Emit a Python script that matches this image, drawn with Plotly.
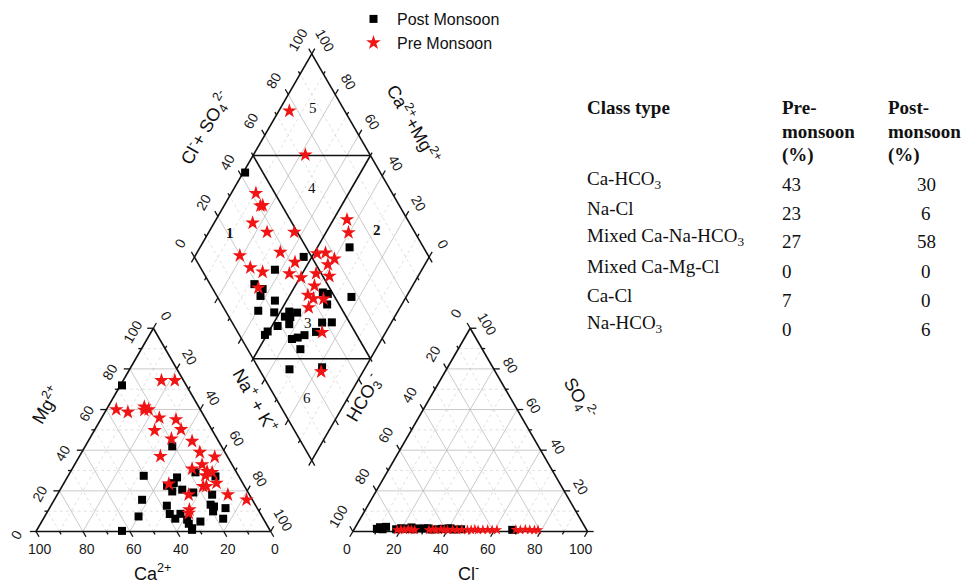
import numpy as np
import plotly.graph_objects as go

# ---------------- data ----------------
# Cation triangle, % meq: Ca2+ and Mg2+ (Na+ + K+ is the remainder)
post_ca = [27.4, 21.0, 40.4, 26.6, 29.4, 32.9, 32.1, 27.4, 23.4, 47.0, 37.9, 38.7, 37.5, 34.1, 32.7,
           33.0, 32.7, 27.5, 52.6, 63.2, 10.0, 17.5, 15.9, 19.0, 18.0, 19.6, 13.5, 17.1, 33.1]
post_mg = [71.9, 41.9, 27.4, 26.6, 23.8, 22.5, 19.7, 20.6, 19.2, 15.6, 12.7, 8.6, 6.3, 8.7, 5.8,
           3.8, 1.6, 4.9, 7.4, 0.3, 27.1, 29.1, 18.1, 13.2, 12.3, 9.9, 11.5, 6.3, 0.8]
pre_ca = [9.4, 3.7, 35.8, 31.5, 23.2, 22.0, 24.0, 19.5, 12.8, 24.6, 13.1, 19.5, 11.3, 28.5, 10.7,
          5.5, 12.8, 18.1, 12.3, 10.4, 14.1, 31.7, 11.2, 17.7, 16.3, 25.9, 9.2, 2.5, 29.3, 30.4]
pre_mg = [74.3, 74.3, 60.0, 58.7, 61.3, 60.0, 59.7, 55.9, 55.1, 49.7, 50.2, 45.6, 44.4, 37.0, 39.0,
          36.7, 32.9, 30.8, 29.6, 29.1, 27.5, 23.4, 23.8, 22.2, 22.2, 18.1, 18.1, 15.6, 10.7, 9.0]

# Anion triangle, % meq: Cl- and SO4 2- (HCO3- is the remainder)
post_cl = [9.6, 10.5, 11.0, 12.1, 13.0, 17.9, 19.7, 21.5, 23.2, 24.0, 25.4, 27.1, 29.7, 31.1, 33.0,
           35.9, 37.4, 39.9, 40.9, 42.5, 45.6, 67.5]
post_so4 = [1.3, 2.1, 1.5, 1.1, 2.3, 1.1, 1.6, 1.3, 1.5, 2.0, 1.1, 1.5, 1.5, 1.6, 1.0,
            1.1, 1.3, 1.5, 1.5, 1.0, 1.1, 0.8]
pre_cl = [18.5, 20.0, 21.5, 23.0, 24.5, 26.0, 32.0, 33.5, 35.0, 37.0, 38.5, 40.0, 42.0, 44.0, 46.0,
          48.5, 50.0, 51.5, 53.0, 55.0, 57.0, 59.0, 61.0, 69.0, 71.0, 73.0, 75.0, 77.0, 78.5]
pre_so4 = [0.8, 1.0, 0.7, 1.2, 0.9, 0.7, 0.8, 1.0, 0.7, 1.1, 0.8, 0.7, 1.0, 0.8, 0.9,
           0.7, 0.8, 1.0, 0.7, 0.8, 0.9, 0.7, 0.8, 0.9, 0.7, 1.0, 0.8, 0.7, 0.8]

# Diamond: Cl- + SO4 2- (%) and Ca2+ + Mg2+ (%)
post_an = [42.4, 46.6, 68.5, 31.2, 18.9, 21.2, 18.6, 23.6, 14.0, 20.4, 27.0, 30.1, 23.9, 26.1, 18.5,
           23.9, 38.3, 42.5, 33.4, 12.9, 10.9, 27.7, 24.2, 21.4, 22.5, 46.0, 47.8, 44.9, 57.1, 12.9, 27.3]
post_cat = [99.2, 53.5, 36.3, 62.6, 67.8, 63.1, 62.3, 55.0, 59.6, 52.4, 46.2, 42.6, 46.8, 44.4, 47.6,
            43.1, 29.5, 25.4, 29.8, 50.5, 50.8, 33.9, 36.2, 38.3, 32.2, 36.6, 34.1, 31.8, 23.3, 31.9, 18.5]
pre_an = [76.4, 72.4, 41.9, 41.8, 40.7, 33.2, 37.1, 48.7, 19.7, 37.8, 41.6, 21.2, 25.4, 36.4, 40.4,
          19.7, 74.2, 71.7, 53.1, 56.9, 59.2, 55.0, 47.8, 52.8, 44.1, 39.0, 40.5, 44.7, 36.3, 35.9, 25.8]
pre_cat = [95.5, 77.9, 89.5, 83.6, 84.5, 83.6, 75.2, 63.6, 81.0, 64.6, 55.9, 73.6, 67.3, 55.5, 49.5,
           65.2, 44.2, 40.4, 48.6, 45.2, 39.9, 41.3, 44.1, 37.8, 41.8, 42.3, 39.1, 34.7, 38.9, 27.1, 17.8]

tick_vals = [0, 20, 40, 60, 80, 100]
tick_text = ["0", "20", "40", "60", "80", "100"]
zone_labels = ["1", "2", "3", "4", "5", "6"]

class_types = ["Ca-HCO<sub>3</sub>", "Na-Cl", "Mixed Ca-Na-HCO<sub>3</sub>", "Mixed Ca-Mg-Cl", "Ca-Cl", "Na-HCO<sub>3</sub>"]
pre_pct = [43, 23, 27, 0, 7, 0]
post_pct = [30, 6, 58, 0, 0, 6]

# ---------------- geometry ----------------
R3 = np.sqrt(3) / 2
GAP = 35.0
XR = 100.0 + GAP
DXC = 100.0 + GAP / 2
DYB = GAP / 2 * np.sqrt(3)
W, H = 966, 586
SCALE = 2.347          # px per unit
X0PX, Y0PX = 36.0, 531.5


def cat_xy(ca, mg):
    ca = np.asarray(ca, float); mg = np.asarray(mg, float)
    na = 100 - ca - mg
    return na + mg / 2, mg * R3


def an_xy(cl, so4):
    cl = np.asarray(cl, float); so4 = np.asarray(so4, float)
    return XR + cl + so4 / 2, so4 * R3


def dia_xy(a, c):
    a = np.asarray(a, float); c = np.asarray(c, float)
    return DXC + (a - c) / 2, DYB + (a + c) * R3


def pt(f, a, b):
    x, y = f(a, b)
    return float(x), float(y)


fig = go.Figure()


def add_segments(segs, color, width, dash="solid"):
    xs, ys = [], []
    for (x0, y0), (x1, y1) in segs:
        xs += [x0, x1, None]
        ys += [y0, y1, None]
    fig.add_trace(go.Scatter(x=xs, y=ys, mode="lines", line=dict(color=color, width=width, dash=dash),
                             hoverinfo="skip", showlegend=False))


def grid_segs(vals):
    s = []
    for v in vals:
        s.append((pt(cat_xy, 100 - v, v), pt(cat_xy, 0, v)))
        s.append((pt(cat_xy, v, 0), pt(cat_xy, v, 100 - v)))
        s.append((pt(cat_xy, 100 - v, 0), pt(cat_xy, 0, 100 - v)))
        s.append((pt(an_xy, 0, v), pt(an_xy, 100 - v, v)))
        s.append((pt(an_xy, v, 0), pt(an_xy, v, 100 - v)))
        s.append((pt(an_xy, 100 - v, 0), pt(an_xy, 0, 100 - v)))
        s.append((pt(dia_xy, v, 0), pt(dia_xy, v, 100)))
        s.append((pt(dia_xy, 0, v), pt(dia_xy, 100, v)))
    return s


add_segments(grid_segs([10, 30, 50, 70, 90]), "#d8d8d8", 0.8, "dot")
add_segments(grid_segs([20, 40, 60, 80]), "#bdbdbd", 0.8)

# ticks
tick_segs = []
for v in range(0, 101, 10):
    L = 2.6 if v % 20 == 0 else 1.4
    for f, a, b, d in [
        (cat_xy, v, 0, (0.5, -R3)),
        (cat_xy, 100 - v, v, (-1, 0)),
        (cat_xy, 0, 100 - v, (0.5, R3)),
        (an_xy, v, 0, (-0.5, -R3)),
        (an_xy, 100 - v, v, (1, 0)),
        (an_xy, 0, 100 - v, (-0.5, R3)),
        (dia_xy, v, 100, (-0.5, R3)),
        (dia_xy, 100, v, (0.5, R3)),
        (dia_xy, 0, v, (-0.5, -R3)),
        (dia_xy, v, 0, (0.5, -R3)),
    ]:
        x, y = pt(f, a, b)
        tick_segs.append(((x, y), (x + L * d[0], y + L * d[1])))
add_segments(tick_segs, "#111111", 1.3)

# outlines
outline = []
for f, corners in [(cat_xy, [(100, 0), (0, 0), (0, 100)]),
                   (an_xy, [(0, 0), (100, 0), (0, 100)]),
                   (dia_xy, [(0, 0), (100, 0), (100, 100), (0, 100)])]:
    pts = [pt(f, a, b) for a, b in corners]
    for i in range(len(pts)):
        outline.append((pts[i], pts[(i + 1) % len(pts)]))
# diamond sub-fields
outline.append((pt(dia_xy, 50, 0), pt(dia_xy, 50, 100)))
outline.append((pt(dia_xy, 0, 50), pt(dia_xy, 100, 50)))
outline.append((pt(dia_xy, 0, 50), pt(dia_xy, 50, 0)))
outline.append((pt(dia_xy, 50, 100), pt(dia_xy, 100, 50)))
add_segments(outline, "#111111", 1.6)

# ---------------- samples ----------------
SQ = dict(symbol="square", color="black", size=8)
ST = dict(symbol="star", color="#f01414", size=11, line=dict(width=0))

x, y = cat_xy(post_ca, post_mg)
fig.add_trace(go.Scatter(x=x, y=y, mode="markers", marker=SQ, name="Post Monsoon", legendgroup="post"))
x, y = dia_xy(post_an, post_cat)
fig.add_trace(go.Scatter(x=x, y=y, mode="markers", marker=SQ, name="Post Monsoon", legendgroup="post", showlegend=False))
x, y = an_xy(post_cl, post_so4)
fig.add_trace(go.Scatter(x=x, y=y, mode="markers", marker=SQ, name="Post Monsoon", legendgroup="post", showlegend=False))

x, y = cat_xy(pre_ca, pre_mg)
fig.add_trace(go.Scatter(x=x, y=y, mode="markers", marker=ST, name="Pre Monsoon", legendgroup="pre"))
x, y = dia_xy(pre_an, pre_cat)
fig.add_trace(go.Scatter(x=x, y=y, mode="markers", marker=ST, name="Pre Monsoon", legendgroup="pre", showlegend=False))
x, y = an_xy(pre_cl, pre_so4)
fig.add_trace(go.Scatter(x=x, y=y, mode="markers", marker=dict(ST, size=8), name="Pre Monsoon",
                         legendgroup="pre", showlegend=False))

# ---------------- text ----------------
SANS = "Liberation Sans, Arial, sans-serif"
SERIF = "Liberation Serif, Times New Roman, serif"
ann = []


def data_label(xy, off, text, angle=0, size=14):
    ann.append(dict(x=xy[0] + off[0], y=xy[1] + off[1], xref="x", yref="y", text=text, showarrow=False,
                    textangle=angle, font=dict(family=SANS, size=size, color="#1a1a1a"),
                    xanchor="center", yanchor="middle"))


for v, t in zip(tick_vals, tick_text):
    data_label(pt(cat_xy, v, 0), (1.7, -7.5), t)              # Ca2+
    data_label(pt(cat_xy, 100 - v, v), (-8.5, -1.3), t, -60)  # Mg2+
    data_label(pt(cat_xy, 0, 100 - v), (5.5, 5.1), t, 60)     # Na+ + K+
    data_label(pt(an_xy, v, 0), (-2.6, -7.5), t)               # Cl-
    data_label(pt(an_xy, 0, 100 - v), (-6.0, 6.4), t, -60)    # HCO3-
    if v > 0:
        data_label(pt(an_xy, 100 - v, v), (7.2, 1.7), t, 60)  # SO4 2-
    data_label(pt(dia_xy, v, 100), (-6.0, 6.0), t, -60)       # Cl- + SO4 2-
    data_label(pt(dia_xy, 100, v), (5.8, 5.5), t, 60)         # Ca2+ + Mg2+


def px_text(px, py, text, angle=0, size=17, family=SANS, xanchor="center", bold=False):
    if bold:
        text = "<b>" + text + "</b>"
    ann.append(dict(x=px / W, y=1 - py / H, xref="paper", yref="paper", text=text, showarrow=False,
                    textangle=angle, font=dict(family=family, size=size, color="#111111"),
                    xanchor=xanchor, yanchor="middle"))


px_text(45, 405, "Mg<sup>2+</sup>", -60, 18)
px_text(152, 572, "Ca<sup>2+</sup>", 0, 18)
px_text(256, 400, "Na<sup>+</sup> + K<sup>+</sup>", 60, 18)
px_text(363, 398, "HCO<sub>3</sub><sup>-</sup>", -60, 18)
px_text(580, 398, "SO<sub>4</sub><sup>2-</sup>", 60, 18)
px_text(468, 572, "Cl<sup>-</sup>", 0, 18)
px_text(205, 128, "Cl<sup>-</sup>+ SO<sub>4</sub><sup>2-</sup>", -60, 18)
px_text(414, 123, "Ca<sup>2+</sup>+Mg<sup>2+</sup>", 60, 18)

# zone numbers
zone_pos = [(230, 233, True), (377, 230, True), (308, 323, False), (312, 188, False), (313, 108, False), (307, 398, False)]
for lab, (zx, zy, b) in zip(zone_labels, zone_pos):
    px_text(zx, zy, lab, 0, 15, SERIF, bold=b)

# table
px_text(585, 108, "Class type", 0, 19, SERIF, "left", True)
for i, line in enumerate(["Pre-", "monsoon", "(%)"]):
    px_text(780, 108 + 23.5 * i, line, 0, 19, SERIF, "left", True)
for i, line in enumerate(["Post-", "monsoon", "(%)"]):
    px_text(886, 108 + 23.5 * i, line, 0, 19, SERIF, "left", True)
row_y = [180, 208.5, 237, 266.5, 295, 324]
for ct, pr, po, ry in zip(class_types, pre_pct, post_pct, row_y):
    px_text(585, ry, ct, 0, 19, SERIF, "left")
    px_text(780, ry + 5, str(pr), 0, 19, SERIF, "left")
    px_text(926, ry + 5, str(po), 0, 19, SERIF, "center")

fig.update_layout(
    width=W, height=H, margin=dict(l=0, r=0, t=0, b=0),
    paper_bgcolor="white", plot_bgcolor="white",
    xaxis=dict(range=[-X0PX / SCALE, (W - X0PX) / SCALE], visible=False, fixedrange=True),
    yaxis=dict(range=[(Y0PX - H) / SCALE, Y0PX / SCALE], visible=False, fixedrange=True),
    annotations=ann,
    showlegend=True,
    legend=dict(x=350 / W, y=1 - 2 / H, xanchor="left", yanchor="top", bgcolor="rgba(0,0,0,0)",
                font=dict(family=SANS, size=16, color="#111111"), tracegroupgap=0, itemsizing="trace",
                itemwidth=37),
)

fig.write_html("out.html")
